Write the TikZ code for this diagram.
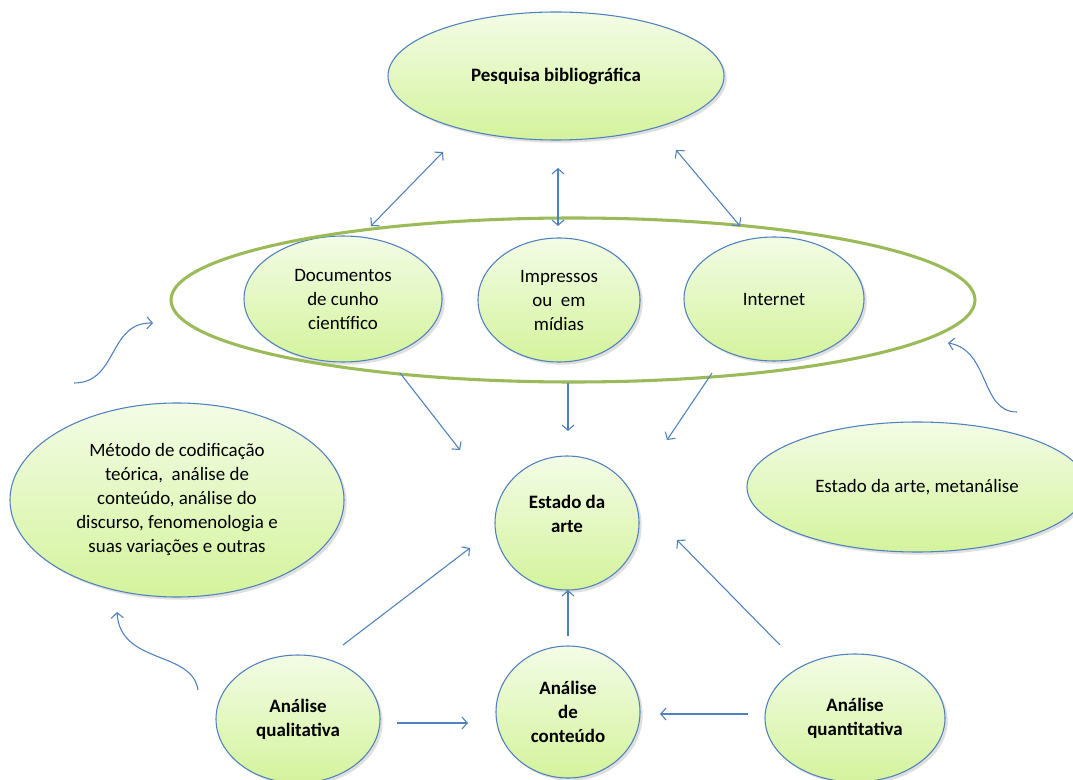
\documentclass[tikz,border=0pt]{standalone}
\usepackage{fontspec}
\setmainfont{Carlito}
\usetikzlibrary{shapes.geometric,arrows.meta,shadows}
\definecolor{bblue}{RGB}{79,129,189}
\definecolor{ggreen}{RGB}{155,187,89}
\definecolor{gtop}{RGB}{243,252,230}
\definecolor{gbot}{RGB}{212,243,156}
\begin{document}
\begin{tikzpicture}[x=0.75pt,y=-0.75pt,
  bubble/.style={ellipse, draw=bblue, line width=0.8pt, top color=gtop, bottom color=gbot,
    inner sep=0pt, align=center, font=\fontsize{14.2}{18}\selectfont,
    drop shadow={opacity=0.25,shadow xshift=2pt,shadow yshift=-2pt}},
  sz/.style 2 args={minimum width=#1*1.5pt, minimum height=#2*1.5pt},
  boldtext/.style={font=\fontsize{14.2}{18}\selectfont\bfseries},
  arr/.style={draw=bblue, line width=0.8pt, -{Straight Barb[length=4pt,width=9pt]}},
  darr/.style={draw=bblue, line width=0.8pt, {Straight Barb[length=4pt,width=9pt]}-{Straight Barb[length=4pt,width=9pt]}},
  ring/.style={draw=ggreen, line width=2.3pt}]
\fill[white] (0,0) rectangle (1073,780);
\clip (0,0) rectangle (1073,780);

% nodes
\node[bubble, boldtext, sz={168}{64}] (pesq) at (556,76) {Pesquisa bibliográfica};
\node[bubble, sz={99}{63}] (doc) at (343,299) {Documentos\\de cunho\\científico};
\node[bubble, sz={81}{62}] (imp) at (559,300) {Impressos\\ou~ em\\mídias};
\node[bubble, sz={90}{62}] (int) at (774,299) {Internet};
\node[ring, ellipse, minimum width=804*0.75pt, minimum height=164*0.75pt, inner sep=0pt] (grupo) at (573,300) {};
\node[bubble, sz={167}{97}] (metodo) at (177,500) {Método de codificação\\teórica,~ análise de\\conteúdo, análise do\\discurso, fenomenologia e\\suas variações e outras};
\node[bubble, boldtext, sz={72}{67}] (estado) at (567,523) {Estado da\\arte\\[-4pt]};
\node[bubble, sz={170}{65}] (meta) at (917,487) {Estado da arte, metanálise};
\node[bubble, boldtext, sz={82}{64}] (quali) at (298,719) {Análise\\qualitativa};
\node[bubble, boldtext, sz={72}{66}] (cont) at (568,712) {Análise\\de\\conteúdo};
\node[bubble, boldtext, sz={90}{64}] (quanti) at (855,718) {Análise\\quantitativa};

% connector end points
\coordinate (p1) at (443,152); \coordinate (d1) at (371,226);
\coordinate (p2) at (558,168); \coordinate (i1) at (558,226);
\coordinate (p3) at (676,150); \coordinate (n1) at (740,226);
\coordinate (d2) at (400,373); \coordinate (e1) at (460,450);
\coordinate (i2) at (568,383); \coordinate (e2) at (568,431);
\coordinate (n2) at (712,373); \coordinate (e3) at (667,440);
\coordinate (q1) at (343,645); \coordinate (e4) at (470,548);
\coordinate (c1) at (568,636); \coordinate (e5) at (568,590);
\coordinate (t1) at (780,645); \coordinate (e6) at (677,540);
\coordinate (q2) at (397,723); \coordinate (c2) at (468,723);
\coordinate (t2) at (748,714); \coordinate (c3) at (660,714);
\coordinate (cl1) at (74,383); \coordinate (cl2) at (153,323);
\coordinate (cr1) at (1017,412); \coordinate (cr2) at (948,343);
\coordinate (cb1) at (198,690); \coordinate (cb2) at (117,612);

% connectors
\draw[darr] (p1) -- (d1);
\draw[darr] (p2) -- (i1);
\draw[darr] (p3) -- (n1);
\draw[arr] (d2) -- (e1);
\draw[arr] (i2) -- (e2);
\draw[arr] (n2) -- (e3);
\draw[arr] (q1) -- (e4);
\draw[arr] (c1) -- (e5);
\draw[arr] (t1) -- (e6);
\draw[arr] (q2) -- (c2);
\draw[arr] (t2) -- (c3);
\draw[arr] (cl1) .. controls (118,383) and (108,322) .. (cl2);
\draw[arr] (cr1) .. controls (980,412) and (990,350) .. (cr2);
\draw[arr] (cb1) .. controls (192,650) and (120,665) .. (cb2);
\end{tikzpicture}
\end{document}
